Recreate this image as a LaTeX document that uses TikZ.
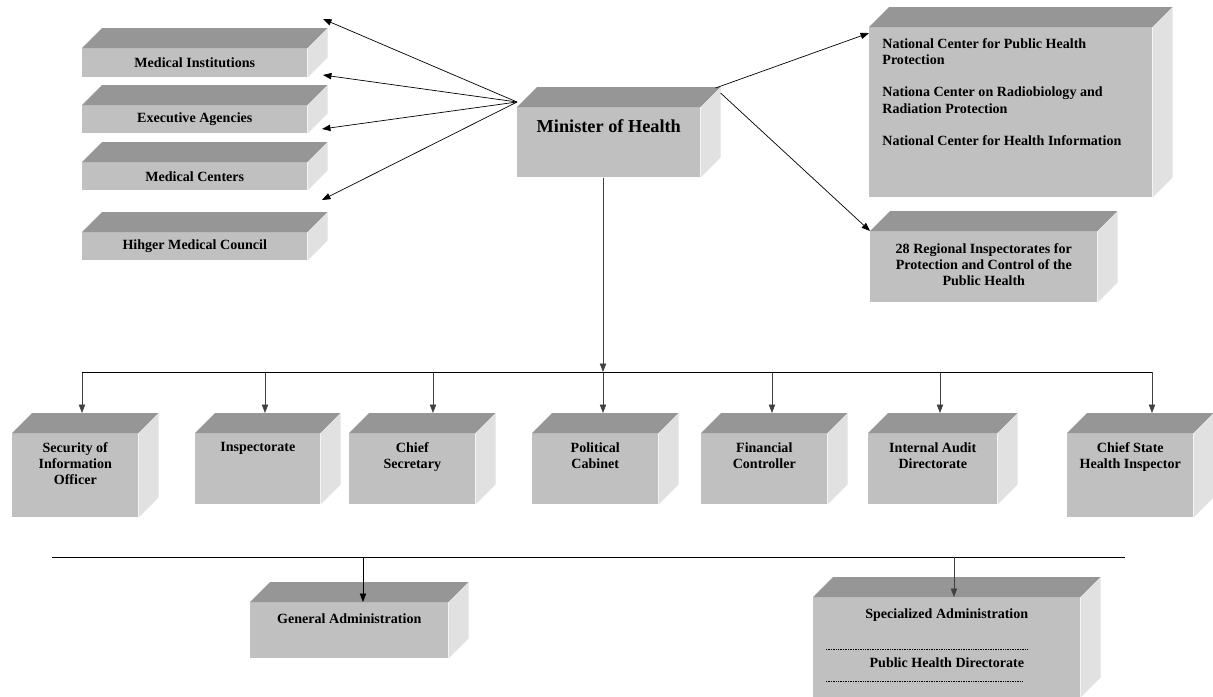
\documentclass[tikz,border=0pt]{standalone}
\usepackage{fontspec}
\setmainfont{Liberation Serif}
\usetikzlibrary{arrows.meta}
\definecolor{frontgray}{RGB}{192,192,192}
\definecolor{topgray}{RGB}{150,150,150}
\definecolor{sidegray}{RGB}{225,225,225}
\begin{document}
\begin{tikzpicture}[x=0.025cm, y=-0.025cm]
                    \tikzset{
                        block/.style 2 args={fill=frontgray, anchor=north west, inner sep=0pt, minimum width=#1*0.025cm, minimum height=#2*0.025cm, font=\bfseries\fontsize{10}{11.5}\selectfont},
                        head/.style={anchor=north, align=center, font=\bfseries\fontsize{10}{11.5}\selectfont},
                        arr/.style={-{Triangle[length=6pt,width=4.5pt]}, line width=0.5pt}
                    }
                    \useasboundingbox (0,0) rectangle (1213,697);
                    % boxes on the left
                    \node[block={225}{29}] (medinst) at (82,48) {Medical Institutions};
                    \node[block={225}{28}] (execag) at (82,105) {Executive Agencies};
                    \node[block={225}{28}] (medcent) at (82,162) {Medical Centers};
                    \node[block={225}{28}] (council) at (82,232) {Hihger Medical Council};
                    % minister and the centers on the right
                    \node[block={183}{70}, label={[head, yshift=-5.5pt, font=\bfseries\fontsize{13}{15}\selectfont]north:Minister of Health}] (minister) at (517,107) {};
                    \node[block={283}{170}, label={[head, anchor=north west, align=left, xshift=6pt, yshift=-4.7pt]north west:National Center for Public Health\\Protection\\[11.5pt]Nationa Center on Radiobiology and\\Radiation Protection\\[11.5pt]National Center for Health Information}] (natcent) at (869,27) {};
                    \node[block={227}{71}, label={[head, yshift=-5.4pt]north:28 Regional Inspectorates for\\Protection and Control of the\\Public Health}] (regional) at (870,231) {};
                    % units under the minister
                    \node[block={126}{84}, label={[head, yshift=-3.3pt]north:Security of\\Information\\Officer}] (security) at (12,433) {};
                    \node[block={125}{71}, label={[head, yshift=-3.3pt]north:Inspectorate}] (inspect) at (195,433) {};
                    \node[block={126}{71}, label={[head, yshift=-3.3pt]north:Chief\\Secretary}] (chiefsec) at (349,433) {};
                    \node[block={126}{71}, label={[head, yshift=-3.3pt]north:Political\\Cabinet}] (political) at (532,433) {};
                    \node[block={126}{71}, label={[head, yshift=-3.3pt]north:Financial\\Controller}] (financial) at (701,433) {};
                    \node[block={129}{71}, label={[head, yshift=-3.3pt]north:Internal Audit\\Directorate}] (audit) at (868,433) {};
                    \node[block={126}{84}, label={[head, yshift=-3.3pt]north:Chief State\\Health Inspector}] (chiefstate) at (1067,433) {};
                    % administrations
                    \node[block={198}{56}, label={[head, yshift=-4.7pt]north:General Administration}] (genadmin) at (250,602) {};
                    \node[block={267}{100}, label={[head, yshift=-4.7pt]north:Specialized Administration}, label={[head, yshift=-40pt]north:Public Health Directorate}] (specadmin) at (813,597) {};
                    % top and side faces
                    \foreach \n in {medinst,execag,medcent,council,minister,natcent,regional,security,inspect,chiefsec,political,financial,audit,chiefstate,genadmin,specadmin}{
                    \fill[topgray] (\n.north west) -- ++(20,-20) -- ([shift={(20,-20)}]\n.north east) -- (\n.north east) -- cycle;
                    \fill[sidegray] (\n.north east) -- ++(20,-20) -- ([shift={(20,-20)}]\n.south east) -- (\n.south east) -- cycle;
                    \coordinate (\n-top) at ([yshift=0.5cm]\n.north);
                    }
                    \draw[line width=0.4pt, dash pattern=on 0.6pt off 0.6pt] (826,649) -- (1027,649);
                    \draw[line width=0.4pt, dash pattern=on 0.6pt off 0.6pt] (826,681) -- (1023,681);
                    % arrows to the left
                    \coordinate (hubL) at ([shift={(0,-5)}]minister.north west);
                    \coordinate (t1) at (323,19);
                    \coordinate (t2) at (323,75);
                    \coordinate (t3) at (322,129);
                    \coordinate (t4) at (322,200);
                    \foreach \t in {t1,t2,t3,t4}{
                    \draw[arr] (hubL) -- (\t);
                    }
                    % arrows to the right
                    \draw[arr] ([shift={(15,-19)}]minister.north east) -- ([yshift=-4.3pt]natcent.north west);
                    \draw[arr] ([shift={(20,-14)}]minister.north east) -- (regional.north west);
                    % bus
                    \coordinate (hub) at (603,372);
                    \draw[arr, black!75] (minister.south -| hub) -- (hub);
                    \foreach \n/\x in {security/82, inspect/265, chiefsec/433, political/603, financial/772, audit/940, chiefstate/1152}{
                    \coordinate (drop-\n) at (\x,372);
                    \draw[arr, black!75] (drop-\n) -- (drop-\n |- \n-top);
                    }
                    \draw[line width=0.5pt] (drop-security) -- (drop-chiefstate);
                    % lower line
                    \coordinate (lineL) at (52,557);
                    \coordinate (lineR) at (1125,557);
                    \draw[line width=0.5pt] (lineL) -- (lineR);
                    \coordinate (dropG) at (363,557);
                    \coordinate (dropS) at (954,557);
                    \draw[arr] (dropG) -- (dropG |- genadmin.north);
                    \draw[arr, black!75] (dropS) -- (dropS |- specadmin.north);
                \end{tikzpicture}
\end{document}
